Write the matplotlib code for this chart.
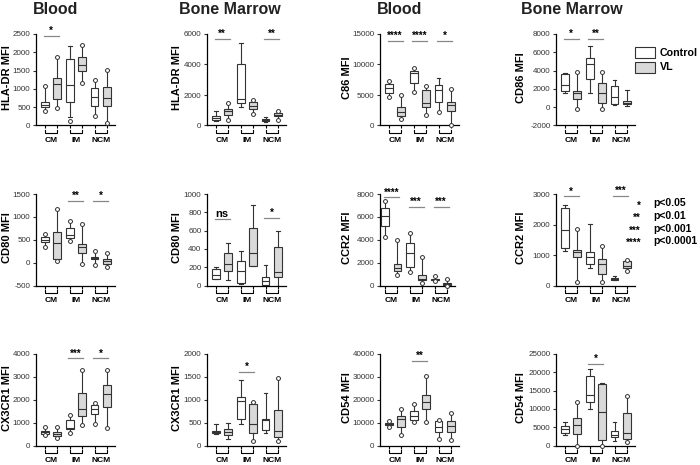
import numpy as np
import matplotlib
matplotlib.use("Agg")
import matplotlib.pyplot as plt
from matplotlib.patches import Rectangle

plt.rcParams['font.family'] = ['Liberation Sans', 'DejaVu Sans']
plt.rcParams['axes.unicode_minus'] = False

groups = ["CM", "IM", "NCM"]

# box order: CM ctrl, CM VL, IM ctrl, IM VL, NCM ctrl, NCM VL
# each box: [whisker low, q1, median, q3, whisker high]
hla_blood = [[400, 510, 560, 630, 1090], [490, 720, 1140, 1290, 1870],
             [240, 650, 1100, 1830, 2180], [1170, 1500, 1640, 1880, 2200],
             [250, 540, 780, 1020, 1240], [60, 520, 750, 1040, 1520]]
hla_blood_dots = [[400, 1090], [490, 1870], [110], [1170, 2200], [250, 1240], [60, 1520]]
hla_blood_sig = [(0, "*", 2450)]

hla_bm = [[300, 380, 480, 620, 920], [380, 700, 950, 1080, 1500],
          [1200, 1450, 1750, 4050, 5400], [750, 1100, 1300, 1550, 1650],
          [220, 280, 350, 420, 550], [350, 600, 700, 800, 920]]
hla_bm_dots = [[], [380, 1500], [], [750, 1650], [], [350, 920]]
hla_bm_sig = [(0, "**", 5650), (2, "**", 5650)]

cd86_blood = [[4600, 5400, 6200, 6800, 7300], [1100, 1600, 2200, 3100, 5000],
              [5500, 6900, 8600, 9000, 9500], [1800, 3000, 3700, 5800, 6500],
              [2200, 3800, 5800, 6600, 7800], [100, 2300, 3300, 3800, 6000]]
cd86_blood_dots = [[4600, 7300], [1100, 5000], [5500, 9500], [1800, 6500], [2200], [100, 6000]]
cd86_blood_sig = [(0, "****", 13800), (1, "****", 13800), (2, "*", 13800)]

cd86_bm = [[1600, 1750, 2400, 3650, 3750], [-200, 900, 1500, 1800, 3900],
           [1500, 3100, 4700, 5400, 6700], [-200, 500, 1600, 2600, 3800],
           [200, 400, 1100, 2300, 3000], [100, 350, 500, 700, 1850]]
cd86_bm_dots = [[], [-200, 3900], [], [-200, 3800], [], []]
cd86_bm_sig = [(0, "*", 7450), (1, "**", 7450)]

cd80_blood = [[340, 450, 490, 550, 630], [30, 80, 420, 670, 1180],
              [470, 540, 600, 760, 910], [-20, 220, 340, 410, 850],
              [-60, 70, 100, 130, 260], [-100, -20, 30, 80, 200]]
cd80_blood_dots = [[340, 630], [30, 1180], [470, 910], [-20, 850], [-60, 260], [-100, 200]]
cd80_blood_sig = [(1, "**", 1340), (2, "*", 1340)]

cd80_bm = [[70, 75, 120, 180, 200], [60, 160, 230, 360, 460],
           [20, 30, 155, 270, 380], [210, 215, 350, 630, 880],
           [0, 10, 45, 90, 220], [0, 90, 150, 420, 600]]
cd80_bm_dots = [[], [], [], [], [], []]
cd80_bm_sig = [(0, "ns", 730), (2, "*", 735)]

ccr2_blood = [[4200, 5200, 6100, 6800, 7400], [900, 1300, 1550, 1900, 4000],
              [1150, 1600, 2800, 3700, 4600], [200, 450, 600, 900, 2450],
              [400, 450, 520, 600, 800], [0, 50, 150, 250, 550]]
ccr2_blood_dots = [[4200, 7400], [900, 4000], [1150, 4600], [200, 2450], [400, 800], [0, 550]]
ccr2_blood_sig = [(0, "****", 7700), (1, "***", 6900), (2, "***", 6900)]

ccr2_bm = [[1130, 1230, 1830, 2550, 2650], [100, 930, 1100, 1180, 1850],
           [580, 720, 950, 1100, 2020], [100, 390, 720, 880, 1300],
           [170, 190, 220, 250, 320], [470, 560, 650, 800, 850]]
ccr2_bm_dots = [[], [100, 1850], [], [100, 1300], [], [470, 850]]
ccr2_bm_sig = [(0, "*", 2920), (2, "***", 2950)]

cx3_blood = [[450, 520, 570, 620, 830], [330, 400, 520, 600, 800],
             [550, 700, 780, 1100, 1330], [900, 1270, 1580, 2280, 3280],
             [960, 1390, 1600, 1750, 1870], [780, 1680, 2230, 2640, 3280]]
cx3_blood_dots = [[450, 830], [330, 800], [550, 1330], [900, 3280], [960, 1870], [780, 3280]]
cx3_blood_sig = [(1, "***", 3810), (2, "*", 3810)]

cx3_bm = [[260, 270, 295, 320, 470], [150, 240, 300, 360, 490],
          [470, 570, 970, 1050, 1430], [90, 270, 470, 900, 960],
          [270, 330, 560, 570, 1140], [90, 180, 320, 780, 1470]]
cx3_bm_dots = [[], [], [], [90, 960], [], [90, 1470]]
cx3_bm_sig = [(1, "*", 1600)]

cd54_blood = [[8200, 9000, 9400, 9800, 10500], [4800, 8300, 11500, 12800, 15800],
              [10200, 11200, 13000, 15000, 18200], [10100, 16000, 19200, 22000, 30500],
              [2900, 5800, 8300, 10500, 11200], [2500, 6000, 8600, 10500, 14000]]
cd54_blood_dots = [[8200, 10500], [4800, 15800], [10200, 18200], [10100, 30500],
                   [2900, 11200], [2500, 14000]]
cd54_blood_sig = [(1, "**", 37000)]

cd54_bm = [[3000, 3500, 4500, 5300, 6500], [0, 3200, 5600, 7400, 12000],
           [10000, 12000, 13700, 19000, 21000], [0, 1600, 9200, 16800, 17200],
           [1300, 2200, 2900, 3900, 6400], [1000, 1900, 3400, 8800, 13500]]
cd54_bm_dots = [[], [0, 12000], [], [0], [], [1000, 13500]]
cd54_bm_sig = [(1, "*", 22400)]

panels = [
    (hla_blood, hla_blood_dots, hla_blood_sig, "HLA-DR MFI", (0, 2500, 500)),
    (hla_bm, hla_bm_dots, hla_bm_sig, "HLA-DR MFI", (0, 6000, 2000)),
    (cd86_blood, cd86_blood_dots, cd86_blood_sig, "C86 MFI", (0, 15000, 5000)),
    (cd86_bm, cd86_bm_dots, cd86_bm_sig, "CD86 MFI", (-2000, 8000, 2000)),
    (cd80_blood, cd80_blood_dots, cd80_blood_sig, "CD80 MFI", (-500, 1500, 500)),
    (cd80_bm, cd80_bm_dots, cd80_bm_sig, "CD80 MFI", (0, 1000, 200)),
    (ccr2_blood, ccr2_blood_dots, ccr2_blood_sig, "CCR2 MFI", (0, 8000, 2000)),
    (ccr2_bm, ccr2_bm_dots, ccr2_bm_sig, "CCR2 MFI", (0, 3000, 1000)),
    (cx3_blood, cx3_blood_dots, cx3_blood_sig, "CX3CR1 MFI", (0, 4000, 1000)),
    (cx3_bm, cx3_bm_dots, cx3_bm_sig, "CX3CR1 MFI", (0, 2000, 500)),
    (cd54_blood, cd54_blood_dots, cd54_blood_sig, "CD54 MFI", (0, 40000, 10000)),
    (cd54_bm, cd54_bm_dots, cd54_bm_sig, "CD54 MFI", (0, 25000, 5000)),
]

titles = ["Blood", "Bone Marrow", "Blood", "Bone Marrow"]
p_stars = ["*", "**", "***", "****"]
p_texts = ["p<0.05", "p<0.01", "p<0.001", "p<0.0001"]

# ---- layout (pixels) ----
W, H = 700, 465
EDGE = '#333333'
GREY = '#d9d9d9'
col_left = [36, 207, 380, 556]
col_ylab = [7, 177, 347, 521]
title_x = [56, 230, 400, 572]
row_top = [34, 194, 354]
ax_w, ax_h = 79, 91.5

fig = plt.figure(figsize=(7, 4.65), dpi=100)


def fx(px):
    return px / W


def fy(py):
    return 1 - py / H


pos = np.arange(1, 7)
for k, (boxes, dots, sig, ylab, yr) in enumerate(panels):
    r, c = divmod(k, 4)
    left, top, width = col_left[c], row_top[r], ax_w
    xl = (0.28, 6.65)
    if k == 6:
        width = 75
        xl = (0.6, 6.62)
    ax = fig.add_axes([fx(left), fy(top + ax_h), fx(width), ax_h / H])

    stats = [dict(whislo=b[0], q1=b[1], med=b[2], q3=b[3], whishi=b[4], fliers=[])
             for b in boxes]
    lp = dict(color=EDGE, linewidth=0.8)
    art = ax.bxp(stats, positions=pos, widths=0.62, patch_artist=True,
                 showfliers=False, boxprops=dict(edgecolor=EDGE, linewidth=0.8),
                 medianprops=lp, whiskerprops=lp, capprops=lp, capwidths=0.3)
    for i, patch in enumerate(art['boxes']):
        patch.set_facecolor('white' if i % 2 == 0 else GREY)
    for p, d in zip(pos, dots):
        if d:
            ax.plot([p] * len(d), d, 'o', ms=2.8, mfc='white', mec=EDGE, mew=0.7,
                    clip_on=False, zorder=4)

    # significance
    for g, txt, h in sig:
        x1, x2 = pos[2 * g], pos[2 * g + 1]
        ax.plot([x1 - 0.1, x2 + 0.1], [h, h], color='#888888', lw=0.9, clip_on=False)
        ax.text((x1 + x2) / 2, h, txt, ha='center', va='bottom',
                fontsize=8 if txt == 'ns' else 7, fontweight='bold', clip_on=False)

    ax.set_ylim(yr[0], yr[1])
    ax.set_yticks(np.arange(yr[0], yr[1] + yr[2], yr[2]))
    ax.set_xlim(*xl)
    ax.set_xticks(pos)
    ax.set_xticklabels([])
    for s in ['top', 'right']:
        ax.spines[s].set_visible(False)
    for s in ['left', 'bottom']:
        ax.spines[s].set_linewidth(0.9)
    ax.tick_params(axis='y', length=2.5, width=0.8, labelsize=5.8, pad=1.5, colors='#333333')
    ax.tick_params(axis='x', length=2.5, width=0.8)

    # group brackets
    tr = ax.get_xaxis_transform()
    for g, name in enumerate(groups):
        x1, x2 = pos[2 * g], pos[2 * g + 1]
        ax.plot([x1, x1, x2, x2], [-0.045, -0.08, -0.08, -0.045], color='black',
                lw=0.8, transform=tr, clip_on=False)
        ax.text((x1 + x2) / 2, -0.16, name, transform=tr, ha='center', va='center',
                fontsize=6, fontweight='bold')

    fig.text(fx(col_ylab[c]), fy(top + ax_h / 2 - 2), ylab, rotation=90,
             ha='center', va='center', fontsize=8, fontweight='bold')

for c, t in enumerate(titles):
    fig.text(fx(title_x[c]), fy(13.5), t, ha='center', va='baseline',
             fontsize=11.5, fontweight='bold', color='#222222')

# legend
for i, (lab, col) in enumerate([("Control", 'white'), ("VL", GREY)]):
    y0 = 47 + i * 15
    fig.add_artist(Rectangle((fx(635), fy(y0 + 11)), fx(20), 11 / H, facecolor=col,
                             edgecolor=EDGE, linewidth=0.8, transform=fig.transFigure))
    fig.text(fx(660), fy(y0 + 5.5), lab, ha='left', va='center',
             fontsize=7.7, fontweight='bold')

# p-value key
for i, (s, t) in enumerate(zip(p_stars, p_texts)):
    yb = fy(203 + i * 12.5 + 3.5)
    fig.text(fx(641), yb - 0.004, s, ha='right', va='baseline', fontsize=7, fontweight='bold')
    fig.text(fx(653), yb, t, ha='left', va='baseline', fontsize=7.5, fontweight='bold')

fig.savefig("out.png", dpi=100)
